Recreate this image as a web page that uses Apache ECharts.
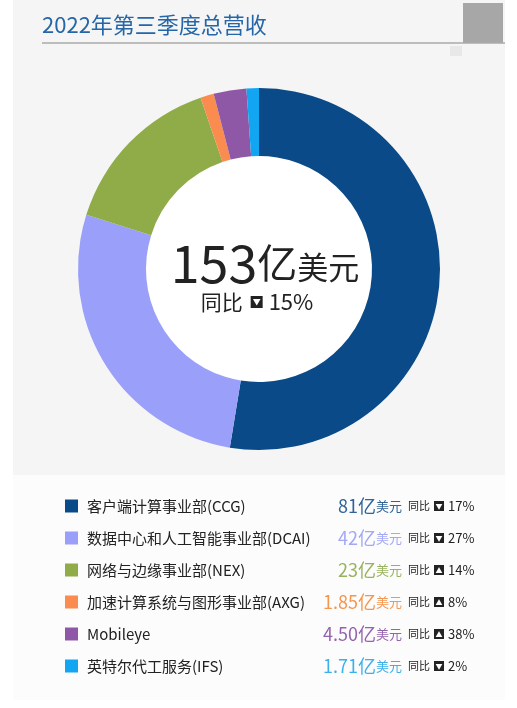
<!DOCTYPE html>
<html>
<head>
<meta charset="utf-8">
<script src="https://cdn.jsdelivr.net/npm/echarts@6/dist/echarts.min.js"></script>
<style>
  html, body { margin: 0; padding: 0; background: #fff; }
  #main { width: 517px; height: 708px; }
</style>
</head>
<body>
<div id="main"></div>
<script>
// 2022年第三季度 各事业部营收（亿美元）
var names = ['客户端计算事业部(CCG)', '数据中心和人工智能事业部(DCAI)', '网络与边缘事业部(NEX)',
             '加速计算系统与图形事业部(AXG)', 'Mobileye', '英特尔代工服务(IFS)'];
var revenue = [81, 42, 23, 1.85, 4.50, 1.71];
var revenueText = ['81', '42', '23', '1.85', '4.50', '1.71'];
var yoyDir = ['down', 'down', 'up', 'up', 'up', 'down'];
var yoyPct = [17, 27, 14, 8, 38, 2];
var totalText = '153';
var totalYoy = 15;

var sliceColors = ['#0b4a88', '#9aa0f9', '#8fac48', '#fb8c4f', '#8e58a7', '#12a6f2'];
var valueColors = ['#2f639a', '#a3a8f5', '#98b35d', '#f5964f', '#9563ad', '#3cb0ea'];

var FONT = '"Noto Sans CJK SC", "Noto Sans", sans-serif';

// 量一下数字宽度，让“xx亿美元”右对齐
var cv = document.createElement('canvas').getContext('2d');
function textW(s, size) {
    cv.font = size + 'px ' + FONT;
    return cv.measureText(s).width;
}

var myChart = echarts.init(document.getElementById('main'));

var rich = {
    y: { fontSize: 11, color: '#222', padding: [0, 4, 0, 6], lineHeight: 22, fontFamily: FONT },
    up: { fontSize: 7, color: '#fff', backgroundColor: '#222', width: 10, height: 10, lineHeight: 10, align: 'center', fontFamily: FONT },
    down: { fontSize: 7, color: '#fff', backgroundColor: '#222', width: 10, height: 10, lineHeight: 10, align: 'center', fontFamily: FONT },
    p: { fontSize: 13, color: '#222', padding: [0, 0, 0, 4], lineHeight: 22, fontFamily: FONT }
};
for (var i = 0; i < names.length; i++) {
    var numW = textW(revenueText[i] + '亿', 18);
    rich['n' + i] = { fontSize: 15, color: '#222', width: 289 - numW, padding: [0, 0, 0, 4], lineHeight: 22, fontFamily: FONT };
    rich['v' + i] = { fontSize: 18, color: valueColors[i], lineHeight: 22, fontFamily: FONT };
    rich['u' + i] = { fontSize: 13, color: valueColors[i], lineHeight: 22, fontFamily: FONT };
}

option = {
    backgroundColor: '#fff',
    color: sliceColors,
    legend: {
        orient: 'vertical',
        left: 60,
        top: 492,
        icon: 'rect',
        itemWidth: 13,
        itemHeight: 13,
        itemGap: 14,
        selectedMode: false,
        data: names,
        textStyle: { rich: rich },
        formatter: function (name) {
            var i = names.indexOf(name);
            return '{n' + i + '|' + name + '}{v' + i + '|' + revenueText[i] + '亿}{u' + i + '|美元}{y|同比}{' +
                yoyDir[i] + '|' + (yoyDir[i] == 'up' ? '▲' : '▼') + '}{p|' + yoyPct[i] + '%}';
        }
    },
    graphic: [
        // 背景
        { type: 'rect', z: -10, shape: { x: 13, y: 0, width: 492, height: 475 }, style: { fill: '#f5f5f5' } },
        { type: 'rect', z: -10, shape: { x: 13, y: 475, width: 492, height: 225 }, style: { fill: '#fcfcfc' } },
        { type: 'rect', z: -9, shape: { x: 463, y: 3, width: 40, height: 40 }, style: { fill: '#a7a7a7' } },
        { type: 'rect', z: -9, shape: { x: 450, y: 46, width: 12, height: 10 }, style: { fill: '#e8e8e8' } },
        { type: 'line', z: -9, shape: { x1: 42, y1: 43, x2: 505, y2: 43 }, style: { stroke: '#aaa', lineWidth: 1.5 } },
        { type: 'circle', z: -8, shape: { cx: 259, cy: 269, r: 114 }, style: { fill: '#fff' } },
        {
            type: 'text', x: 42, y: 25,
            style: { text: '2022年第三季度总营收', fill: '#2566a8', font: '22px ' + FONT, verticalAlign: 'middle' }
        },
        // 中心文字
        {
            type: 'text', x: 265, y: 263,
            style: {
                text: '{a|' + totalText + '}{b|亿}{c|美元}',
                align: 'center', verticalAlign: 'middle',
                rich: {
                    a: { fontSize: 52, fill: '#222', fontFamily: FONT },
                    b: { fontSize: 40, fill: '#222', fontFamily: FONT },
                    c: { fontSize: 31, fill: '#222', fontFamily: FONT, padding: [9, 0, 0, 0] }
                }
            }
        },
        {
            type: 'text', x: 257, y: 302,
            style: {
                text: '{y|同比}{box|▼}{p|' + totalYoy + '%}',
                align: 'center', verticalAlign: 'middle',
                rich: {
                    y: { fontSize: 21, fill: '#222', fontFamily: FONT, padding: [0, 8, 0, 0] },
                    box: { fontSize: 8, fill: '#fff', backgroundColor: '#222', width: 12, height: 12, lineHeight: 12, align: 'center', fontFamily: FONT },
                    p: { fontSize: 22, fill: '#222', fontFamily: FONT, padding: [0, 0, 0, 6] }
                }
            }
        }
    ],
    series: [
        {
            name: '营收',
            type: 'pie',
            center: [259, 269],
            radius: [113, 181],
            startAngle: 90,
            clockwise: true,
            avoidLabelOverlap: false,
            label: { show: false },
            labelLine: { show: false },
            emphasis: { disabled: true },
            data: names.map(function (n, i) { return { name: n, value: revenue[i] }; })
        }
    ]
};

myChart.setOption(option);
</script>
</body>
</html>
